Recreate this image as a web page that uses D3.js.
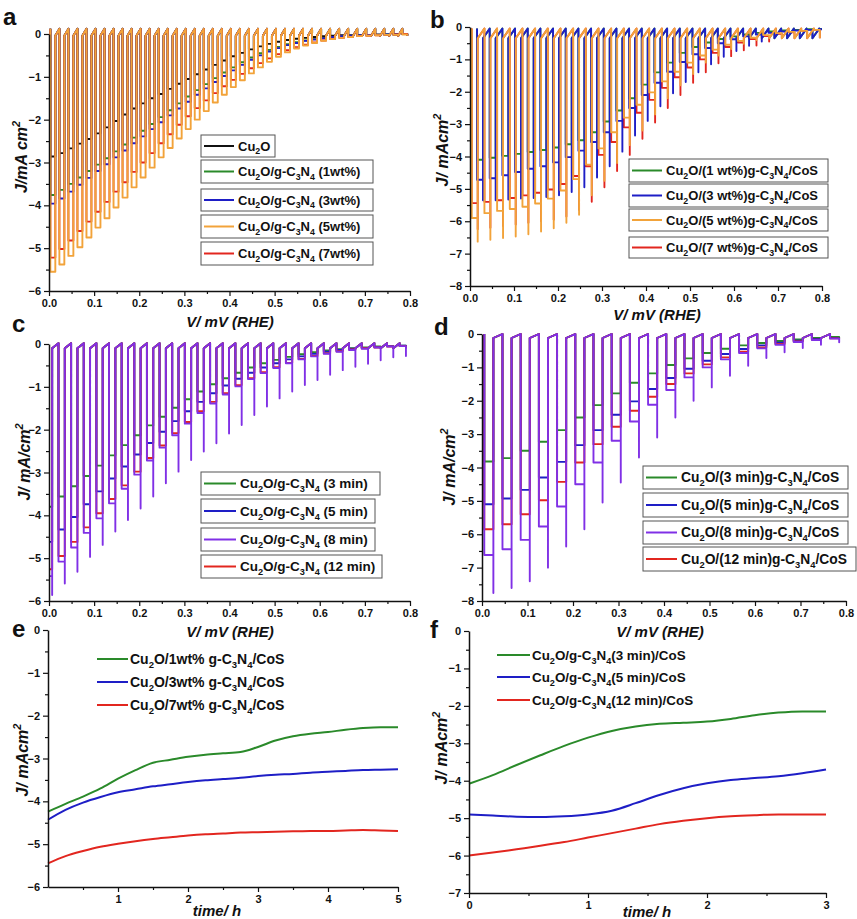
<!DOCTYPE html>
<html>
<head>
<meta charset="utf-8">
<script src="https://cdn.jsdelivr.net/npm/d3@7"></script>
<style>
  body { margin: 0; background: #fff; }
  svg { display: block; }
</style>
</head>
<body>
<svg id="fig" width="857" height="919"></svg>
<script>
// ---------- chopped-light LSV data: light-on current per chopping cycle (mA/cm2) ----------

// (a) Cu2O/g-C3N4 loadings; chop = [period, first light edge, light width] in V; dark = [after-off, before-on]
const aChop = [0.02, 0.003, 0.011];
const aDark = [-0.04, 0.12];
const aCu2O = [-2.86,-2.78,-2.67,-2.56,-2.45,-2.32,-2.18,-2.03,-1.88,-1.74,-1.62,-1.50,-1.40,-1.28,-1.16,-1.05,-0.94,-0.83,-0.72,-0.62,-0.52,-0.44,-0.36,-0.29,-0.23,-0.18,-0.14,-0.11,-0.09,-0.07,-0.05,-0.04,-0.03,-0.03,-0.02,-0.02,-0.01,-0.01,-0.01,0.00];
const a1wt = [-3.76,-3.64,-3.50,-3.35,-3.20,-3.05,-2.90,-2.74,-2.58,-2.42,-2.26,-2.10,-1.94,-1.78,-1.62,-1.46,-1.31,-1.17,-1.03,-0.90,-0.78,-0.66,-0.55,-0.45,-0.37,-0.30,-0.24,-0.19,-0.15,-0.12,-0.09,-0.07,-0.05,-0.04,-0.03,-0.02,-0.02,-0.01,-0.01,0.00];
const a3wt = [-3.96,-3.84,-3.68,-3.52,-3.36,-3.20,-3.04,-2.88,-2.72,-2.55,-2.39,-2.22,-2.06,-1.90,-1.74,-1.58,-1.42,-1.27,-1.12,-0.98,-0.85,-0.72,-0.60,-0.50,-0.41,-0.33,-0.26,-0.21,-0.16,-0.13,-0.10,-0.07,-0.05,-0.04,-0.03,-0.02,-0.02,-0.01,-0.01,0.00];
const a5wt = [-5.55,-5.38,-5.18,-4.98,-4.75,-4.52,-4.30,-4.05,-3.82,-3.58,-3.35,-3.12,-2.88,-2.66,-2.44,-2.22,-2.00,-1.80,-1.60,-1.42,-1.24,-1.08,-0.92,-0.78,-0.65,-0.53,-0.43,-0.34,-0.27,-0.21,-0.16,-0.12,-0.09,-0.07,-0.05,-0.04,-0.03,-0.02,-0.02,-0.01];
const a7wt = [-5.22,-5.02,-4.82,-4.60,-4.38,-4.15,-3.92,-3.68,-3.46,-3.22,-3.00,-2.78,-2.55,-2.34,-2.12,-1.92,-1.73,-1.55,-1.38,-1.22,-1.07,-0.93,-0.80,-0.68,-0.57,-0.47,-0.38,-0.31,-0.25,-0.20,-0.15,-0.12,-0.09,-0.07,-0.05,-0.04,-0.03,-0.02,-0.01,0.00];

// (b) Cu2O/(x wt%)g-C3N4/CoS; two shutter phases
const bChopA = [0.0288, 0.004, 0.0135];
const bChopB = [0.0288, 0.016, 0.0135];
const bDark = [-0.35, -0.05];
const b1wt = [-4.10,-4.04,-3.98,-3.92,-3.86,-3.80,-3.72,-3.62,-3.50,-3.25,-2.92,-2.58,-2.20,-1.78,-1.40,-1.10,-0.80,-0.62,-0.48,-0.37,-0.29,-0.23,-0.18,-0.14,-0.11,-0.09,-0.07,-0.06];
const b3wt = [-4.72,-4.67,-4.58,-4.48,-4.38,-4.30,-4.18,-4.02,-3.82,-3.55,-3.25,-2.90,-2.50,-2.10,-1.72,-1.38,-1.08,-0.84,-0.65,-0.50,-0.38,-0.29,-0.23,-0.18,-0.14,-0.11,-0.09,-0.07];
const b3wtSpike = [-5.35,-5.35,-5.33,-5.30,-5.28,-5.25,-5.20,-5.10,-4.95,-4.65,-4.30,-3.85,-3.35,-2.90,-2.45,-2.05,-1.70,-1.40,-1.15,-0.92,-0.74,-0.58,-0.45,-0.35,-0.27,-0.21,-0.16,-0.12];
const b5wt = [-5.90,-5.75,-5.68,-5.62,-5.55,-5.45,-5.30,-5.05,-4.70,-4.25,-3.75,-3.25,-2.80,-2.40,-2.02,-1.68,-1.38,-1.10,-0.88,-0.70,-0.55,-0.43,-0.33,-0.25,-0.19,-0.15,-0.12,-0.09];
const b5wtSpike = [-6.63,-6.57,-6.52,-6.47,-6.40,-6.32,-6.22,-6.05,-5.80,-5.20,-4.75,-4.20,-3.65,-3.20,-2.70,-2.20,-1.80,-1.45,-1.10,-0.88,-0.68,-0.52,-0.40,-0.30,-0.24,-0.18,-0.14,-0.10];
const b7wt = [-5.44,-5.40,-5.35,-5.28,-5.20,-5.12,-5.02,-4.85,-4.60,-4.30,-3.95,-3.55,-3.10,-2.65,-2.25,-1.88,-1.55,-1.25,-1.00,-0.80,-0.62,-0.48,-0.37,-0.28,-0.21,-0.16,-0.12,-0.09];
const b7wtSpike = [-6.25,-6.20,-6.15,-6.10,-6.05,-6.00,-5.95,-5.85,-5.65,-5.40,-4.95,-4.45,-3.95,-3.45,-2.95,-2.50,-2.10,-1.72,-1.40,-1.12,-0.90,-0.72,-0.57,-0.45,-0.35,-0.27,-0.21,-0.16];

// (c) Cu2O/g-C3N4 deposition time
const cChop = [0.028, -0.007, 0.014];
const cDark = [-0.10, 0.02];
const c3min = [-3.80,-3.56,-3.32,-3.08,-2.84,-2.60,-2.36,-2.13,-1.90,-1.70,-1.49,-1.29,-1.11,-0.94,-0.80,-0.67,-0.55,-0.45,-0.37,-0.30,-0.24,-0.19,-0.15,-0.12,-0.10,-0.08,-0.06,-0.05,-0.04];
const c5min = [-4.62,-4.33,-4.04,-3.74,-3.44,-3.14,-2.86,-2.58,-2.31,-2.05,-1.80,-1.57,-1.35,-1.15,-0.97,-0.81,-0.67,-0.55,-0.45,-0.36,-0.29,-0.23,-0.18,-0.14,-0.11,-0.09,-0.07,-0.05,-0.04];
const c8min = [-5.42,-5.08,-4.75,-4.41,-4.07,-3.72,-3.38,-3.05,-2.72,-2.42,-2.13,-1.86,-1.61,-1.39,-1.18,-0.99,-0.82,-0.68,-0.56,-0.45,-0.36,-0.29,-0.23,-0.18,-0.14,-0.11,-0.08,-0.06,-0.05];
const c8minSpike = [-5.86,-5.59,-5.32,-4.97,-4.69,-4.38,-4.11,-3.84,-3.56,-3.25,-2.98,-2.71,-2.51,-2.32,-2.09,-1.89,-1.66,-1.46,-1.27,-1.11,-0.96,-0.84,-0.72,-0.61,-0.53,-0.46,-0.38,-0.31,-0.28];
const c12min = [-5.26,-4.95,-4.62,-4.28,-3.95,-3.62,-3.30,-2.98,-2.66,-2.37,-2.08,-1.82,-1.57,-1.35,-1.15,-0.96,-0.80,-0.66,-0.54,-0.44,-0.35,-0.28,-0.22,-0.17,-0.13,-0.10,-0.08,-0.06,-0.05];

// (d) Cu2O/(t min)g-C3N4/CoS
const dChop = [0.04, 0.005, 0.02];
const dDark = [-0.12, 0.0];
const d3min = [-3.82,-3.72,-3.50,-3.23,-2.88,-2.50,-2.13,-1.78,-1.46,-1.18,-0.93,-0.73,-0.57,-0.44,-0.34,-0.27,-0.21,-0.16,-0.12,-0.09];
const d5min = [-5.10,-4.93,-4.67,-4.30,-3.83,-3.33,-2.88,-2.42,-2.02,-1.65,-1.32,-1.04,-0.80,-0.60,-0.45,-0.34,-0.26,-0.20,-0.15,-0.12];
const d8min = [-6.62,-6.45,-6.17,-5.77,-5.17,-4.50,-3.85,-3.20,-2.62,-2.12,-1.68,-1.30,-1.00,-0.76,-0.57,-0.43,-0.32,-0.24,-0.18,-0.14];
const d8minSpike = [-7.76,-7.61,-7.41,-7.00,-6.37,-5.85,-5.05,-4.45,-3.70,-3.10,-2.50,-2.00,-1.60,-1.25,-0.95,-0.72,-0.55,-0.42,-0.32,-0.25];
const d12min = [-5.85,-5.70,-5.40,-4.98,-4.43,-3.85,-3.30,-2.78,-2.30,-1.88,-1.50,-1.18,-0.91,-0.70,-0.53,-0.40,-0.30,-0.22,-0.17,-0.13];

// ---------- stability (chronoamperometry) data ----------
const eTime = [0,0.25,0.5,0.75,1.0,1.25,1.5,1.75,2.0,2.25,2.5,2.75,3.0,3.25,3.5,3.75,4.0,4.25,4.5,4.75,5.0];
const e1wt = [-4.24,-4.06,-3.89,-3.70,-3.47,-3.27,-3.10,-3.03,-2.96,-2.91,-2.88,-2.85,-2.73,-2.58,-2.48,-2.42,-2.38,-2.33,-2.29,-2.27,-2.27];
const e3wt = [-4.43,-4.20,-4.03,-3.90,-3.79,-3.72,-3.65,-3.60,-3.55,-3.51,-3.48,-3.45,-3.41,-3.38,-3.36,-3.33,-3.31,-3.29,-3.27,-3.26,-3.25];
const e7wt = [-5.45,-5.28,-5.16,-5.06,-4.99,-4.93,-4.88,-4.84,-4.80,-4.77,-4.75,-4.73,-4.72,-4.71,-4.70,-4.69,-4.69,-4.68,-4.67,-4.68,-4.69];

const fTime = [0,0.2,0.4,0.6,0.8,1.0,1.2,1.4,1.6,1.8,2.0,2.2,2.4,2.6,2.8,3.0];
const f3min = [-4.08,-3.85,-3.58,-3.32,-3.07,-2.85,-2.67,-2.55,-2.48,-2.45,-2.42,-2.35,-2.25,-2.18,-2.15,-2.15];
const f5min = [-4.90,-4.93,-4.96,-4.97,-4.95,-4.90,-4.80,-4.60,-4.38,-4.20,-4.07,-3.98,-3.93,-3.88,-3.80,-3.70];
const f12min = [-6.00,-5.92,-5.83,-5.74,-5.64,-5.52,-5.40,-5.28,-5.16,-5.07,-5.00,-4.95,-4.92,-4.90,-4.90,-4.90];

// ---------- ticks ----------
const vMajor = [0,0.1,0.2,0.3,0.4,0.5,0.6,0.7,0.8];
const vMinor = [0.05,0.15,0.25,0.35,0.45,0.55,0.65,0.75];
const j6Major = [-6,-5,-4,-3,-2,-1,0];
const j6Minor = [-5.5,-4.5,-3.5,-2.5,-1.5,-0.5];
const j7Major = [-7,-6,-5,-4,-3,-2,-1,0];
const j7Minor = [-6.5,-5.5,-4.5,-3.5,-2.5,-1.5,-0.5];
const j8Major = [-8,-7,-6,-5,-4,-3,-2,-1,0];
const j8Minor = [-7.5,-6.5,-5.5,-4.5,-3.5,-2.5,-1.5,-0.5];
const eMajor = [1,2,3,4,5];
const eMinor = [0.5,1.5,2.5,3.5,4.5];
const fMajor = [0,1,2,3];
const fMinor = [0.5,1.5,2.5];

// ---------- colours ----------
const BLACK = '#111111', GREEN = '#2a8a2a', BLUE = '#1e1ec6', ORANGE = '#f2a33a', RED = '#e2261f', PURPLE = '#8030e6';
const FONT = '"Liberation Sans", Arial, Helvetica, sans-serif';

const svg = d3.select('#fig');
const defs = svg.append('defs');

// text with _x subscripts and ^x superscripts
function rich(text, str, size) {
  const parts = [];
  for (let i = 0; i < str.length; i++) {
    const ch = str[i];
    if ((ch === '_' || ch === '^') && i + 1 < str.length) {
      parts.push({ t: str[i + 1], m: ch === '_' ? 1 : -1 });
      i++;
    } else if (parts.length && parts[parts.length - 1].m === 0) {
      parts[parts.length - 1].t += ch;
    } else {
      parts.push({ t: ch, m: 0 });
    }
  }
  let cur = 0;
  parts.forEach(p => {
    const off = p.m === 1 ? size * 0.28 : p.m === -1 ? -size * 0.42 : 0;
    const ts = text.append('tspan').text(p.t);
    if (off !== cur) ts.attr('dy', off - cur);
    if (p.m) ts.attr('font-size', size * 0.68);
    cur = off;
  });
  return text;
}

function axes(xs, ys, xMajor, xMinor, xFmt, yMajor, yMinor) {
  const yb = ys.range()[0];
  const xl = xs.range()[0];
  const style = g => {
    g.attr('font-family', FONT).attr('font-size', 11).attr('font-weight', 'bold');
    g.selectAll('.domain').attr('stroke', BLACK).attr('stroke-width', 1.5);
    g.selectAll('.tick line').attr('stroke', BLACK).attr('stroke-width', 1.2);
    g.selectAll('.tick text').attr('fill', BLACK);
  };
  svg.append('g').attr('transform', `translate(0,${yb})`)
    .call(d3.axisBottom(xs).tickValues(xMinor).tickFormat('').tickSizeInner(3).tickSizeOuter(0))
    .call(g => g.select('.domain').remove()).call(style);
  svg.append('g').attr('transform', `translate(${xl},0)`)
    .call(d3.axisLeft(ys).tickValues(yMinor).tickFormat('').tickSizeInner(3).tickSizeOuter(0))
    .call(g => g.select('.domain').remove()).call(style);
  svg.append('g').attr('transform', `translate(0,${yb})`)
    .call(d3.axisBottom(xs).tickValues(xMajor).tickFormat(xFmt).tickSizeInner(5).tickSizeOuter(0).tickPadding(3))
    .call(style);
  svg.append('g').attr('transform', `translate(${xl},0)`)
    .call(d3.axisLeft(ys).tickValues(yMajor).tickFormat(d3.format('d')).tickSizeInner(5).tickSizeOuter(0).tickPadding(3))
    .call(style);
}

function clip(id, xs, ys) {
  const [x0, x1] = xs.range();
  const [yb, yt] = ys.range();
  defs.append('clipPath').attr('id', id).append('rect')
    .attr('x', x0).attr('y', yt - 14).attr('width', x1 - x0).attr('height', yb - yt + 16);
}

// square-wave trace built from light-on plateaus (and optional on-spikes)
function chopped(xs, ys, clipId, chop, dark, plateau, spike, color) {
  const [period, first, width] = chop;
  const pts = [];
  plateau.forEach((p, k) => {
    const xl = first + k * period, xr = xl + width;
    const s = spike ? spike[k] : p;
    pts.push([xl, dark[1]], [xl, p], [xr, p], [xr, s], [xr, dark[0]]);
  });
  svg.append('path')
    .attr('clip-path', `url(#${clipId})`)
    .attr('d', d3.line().x(d => xs(d[0])).y(d => ys(d[1]))(pts))
    .attr('fill', 'none').attr('stroke', color).attr('stroke-width', 1.9)
    .attr('stroke-linejoin', 'round');
}

function smooth(xs, ys, t, v, color) {
  svg.append('path')
    .attr('d', d3.line().curve(d3.curveMonotoneX).x((d, i) => xs(t[i])).y(d => ys(d))(v))
    .attr('fill', 'none').attr('stroke', color).attr('stroke-width', 2);
}

function boxedLegend(items) {
  items.forEach(it => {
    const [x0, y0, x1, y1] = it.box;
    const cy = (y0 + y1) / 2;
    svg.append('rect').attr('x', x0).attr('y', y0).attr('width', x1 - x0).attr('height', y1 - y0)
      .attr('fill', '#fff').attr('stroke', '#555').attr('stroke-width', 1);
    svg.append('line').attr('x1', x0 + 3).attr('x2', x0 + it.line).attr('y1', cy).attr('y2', cy)
      .attr('stroke', it.color).attr('stroke-width', 2);
    rich(svg.append('text').attr('x', x0 + it.line + 4).attr('y', cy + 4.8)
      .attr('font-family', FONT).attr('font-size', it.size).attr('font-weight', 'bold').attr('fill', BLACK),
      it.label, it.size);
  });
}

function plainLegend(items, lx0, lx1, size) {
  items.forEach(it => {
    svg.append('line').attr('x1', lx0).attr('x2', lx1).attr('y1', it.y).attr('y2', it.y)
      .attr('stroke', it.color).attr('stroke-width', 2);
    rich(svg.append('text').attr('x', lx1 + 2).attr('y', it.y + 4.8)
      .attr('font-family', FONT).attr('font-size', size).attr('font-weight', 'bold').attr('fill', BLACK),
      it.label, size);
  });
}

function yTitle(x, y, str) {
  rich(svg.append('text').attr('transform', `translate(${x},${y}) rotate(-90)`)
    .attr('text-anchor', 'middle').attr('font-family', FONT).attr('font-size', 16)
    .attr('font-weight', 'bold').attr('font-style', 'italic').attr('fill', BLACK), str, 16);
}
function xTitle(x, y, str) {
  svg.append('text').attr('x', x).attr('y', y).attr('text-anchor', 'middle')
    .attr('font-family', FONT).attr('font-size', 15).attr('font-weight', 'bold')
    .attr('font-style', 'italic').attr('fill', BLACK).text(str);
}
function letter(x, y, s) {
  svg.append('text').attr('x', x).attr('y', y).attr('font-family', FONT).attr('font-size', 24)
    .attr('font-weight', 'bold').attr('fill', BLACK).text(s);
}

const f1 = d3.format('.1f');

// ---------- (a) ----------
{
  const xs = d3.scaleLinear().domain([0, 0.8]).range([49, 410]);
  const ys = d3.scaleLinear().domain([-6, 0]).range([291, 34]);
  clip('clipA', xs, ys);
  chopped(xs, ys, 'clipA', aChop, aDark, aCu2O, null, BLACK);
  chopped(xs, ys, 'clipA', aChop, aDark, a1wt, null, GREEN);
  chopped(xs, ys, 'clipA', aChop, aDark, a3wt, null, BLUE);
  chopped(xs, ys, 'clipA', aChop, aDark, a7wt, null, RED);
  chopped(xs, ys, 'clipA', aChop, aDark, a5wt, null, ORANGE);
  axes(xs, ys, vMajor, vMinor, f1, j6Major, j6Minor);
  boxedLegend([
    { box: [201, 135, 275, 157], line: 33, color: BLACK, label: 'Cu_2O', size: 13 },
    { box: [201, 160, 373, 183], line: 33, color: GREEN, label: 'Cu_2O/g-C_3N_4 (1wt%)', size: 13 },
    { box: [201, 189, 373, 211], line: 33, color: BLUE, label: 'Cu_2O/g-C_3N_4 (3wt%)', size: 13 },
    { box: [201, 215, 373, 238], line: 33, color: ORANGE, label: 'Cu_2O/g-C_3N_4 (5wt%)', size: 13 },
    { box: [201, 242, 373, 265], line: 33, color: RED, label: 'Cu_2O/g-C_3N_4 (7wt%)', size: 13 }
  ]);
  yTitle(27, 157, 'J/mA cm^2');
  xTitle(230, 327, 'V/ mV (RHE)');
  letter(3, 25, 'a');
}

// ---------- (b) ----------
{
  const xs = d3.scaleLinear().domain([0, 0.8]).range([470, 822]);
  const ys = d3.scaleLinear().domain([-8, 0]).range([286, 27]);
  clip('clipB', xs, ys);
  chopped(xs, ys, 'clipB', bChopB, bDark, b1wt, null, GREEN);
  chopped(xs, ys, 'clipB', bChopA, bDark, b7wt, b7wtSpike, RED);
  chopped(xs, ys, 'clipB', bChopB, bDark, b3wt, b3wtSpike, BLUE);
  chopped(xs, ys, 'clipB', bChopA, bDark, b5wt, b5wtSpike, ORANGE);
  axes(xs, ys, vMajor, vMinor, f1, j8Major, j8Minor);
  boxedLegend([
    { box: [629, 159, 828, 182], line: 33, color: GREEN, label: 'Cu_2O/(1 wt%)g-C_3N_4/CoS', size: 13 },
    { box: [629, 184, 828, 207], line: 33, color: BLUE, label: 'Cu_2O/(3 wt%)g-C_3N_4/CoS', size: 13 },
    { box: [629, 209, 828, 231], line: 33, color: ORANGE, label: 'Cu_2O/(5 wt%)g-C_3N_4/CoS', size: 13 },
    { box: [629, 237, 828, 258], line: 33, color: RED, label: 'Cu_2O/(7 wt%)g-C_3N_4/CoS', size: 13 }
  ]);
  yTitle(448, 150, 'J/ mAcm^2');
  xTitle(657, 320, 'V/ mV (RHE)');
  letter(430, 28, 'b');
}

// ---------- (c) ----------
{
  const xs = d3.scaleLinear().domain([0, 0.8]).range([49, 410]);
  const ys = d3.scaleLinear().domain([-6, 0]).range([601, 344]);
  clip('clipC', xs, ys);
  chopped(xs, ys, 'clipC', cChop, cDark, c3min, null, GREEN);
  chopped(xs, ys, 'clipC', cChop, cDark, c5min, null, BLUE);
  chopped(xs, ys, 'clipC', cChop, cDark, c12min, null, RED);
  chopped(xs, ys, 'clipC', cChop, cDark, c8min, c8minSpike, PURPLE);
  axes(xs, ys, vMajor, vMinor, f1, j6Major, j6Minor);
  boxedLegend([
    { box: [201, 472, 380, 495], line: 35, color: GREEN, label: 'Cu_2O/g-C_3N_4 (3 min)', size: 13.5 },
    { box: [201, 499, 375, 523], line: 35, color: BLUE, label: 'Cu_2O/g-C_3N_4 (5 min)', size: 13.5 },
    { box: [201, 528, 375, 551], line: 35, color: PURPLE, label: 'Cu_2O/g-C_3N_4 (8 min)', size: 13.5 },
    { box: [201, 555, 382, 578], line: 35, color: RED, label: 'Cu_2O/g-C_3N_4 (12 min)', size: 13.5 }
  ]);
  yTitle(30, 462, 'J/ mA/cm^2');
  xTitle(230, 637, 'V/ mV (RHE)');
  letter(12, 332, 'c');
}

// ---------- (d) ----------
{
  const xs = d3.scaleLinear().domain([0, 0.8]).range([482, 846]);
  const ys = d3.scaleLinear().domain([-8, 0]).range([601, 334]);
  clip('clipD', xs, ys);
  chopped(xs, ys, 'clipD', dChop, dDark, d3min, null, GREEN);
  chopped(xs, ys, 'clipD', dChop, dDark, d5min, null, BLUE);
  chopped(xs, ys, 'clipD', dChop, dDark, d12min, null, RED);
  chopped(xs, ys, 'clipD', dChop, dDark, d8min, d8minSpike, PURPLE);
  axes(xs, ys, vMajor, vMinor, f1, j8Major, j8Minor);
  boxedLegend([
    { box: [643, 466, 848, 489], line: 34, color: GREEN, label: 'Cu_2O/(3 min)g-C_3N_4/CoS', size: 13.8 },
    { box: [643, 493, 848, 517], line: 34, color: BLUE, label: 'Cu_2O/(5 min)g-C_3N_4/CoS', size: 13.8 },
    { box: [643, 521, 848, 544], line: 34, color: PURPLE, label: 'Cu_2O/(8 min)g-C_3N_4/CoS', size: 13.8 },
    { box: [643, 547, 856, 571], line: 34, color: RED, label: 'Cu_2O/(12 min)g-C_3N_4/CoS', size: 13.8 }
  ]);
  yTitle(455, 467, 'J/ mA/cm^2');
  xTitle(660, 637, 'V/ mV (RHE)');
  letter(434, 335, 'd');
}

// ---------- (e) ----------
{
  const xs = d3.scaleLinear().domain([0, 5]).range([48, 398]);
  const ys = d3.scaleLinear().domain([-6, 0]).range([887, 630]);
  smooth(xs, ys, eTime, e1wt, GREEN);
  smooth(xs, ys, eTime, e3wt, BLUE);
  smooth(xs, ys, eTime, e7wt, RED);
  axes(xs, ys, eMajor, eMinor, d3.format('d'), j6Major, j6Minor);
  plainLegend([
    { y: 659, color: GREEN, label: 'Cu_2O/1wt% g-C_3N_4/CoS' },
    { y: 682, color: BLUE, label: 'Cu_2O/3wt% g-C_3N_4/CoS' },
    { y: 705, color: RED, label: 'Cu_2O/7wt% g-C_3N_4/CoS' }
  ], 97, 128, 14);
  yTitle(28, 760, 'J/ mAcm^2');
  xTitle(217, 916, 'time/ h');
  letter(12, 637, 'e');
}

// ---------- (f) ----------
{
  const xs = d3.scaleLinear().domain([0, 3]).range([469, 826]);
  const ys = d3.scaleLinear().domain([-7, 0]).range([893, 631]);
  smooth(xs, ys, fTime, f3min, GREEN);
  smooth(xs, ys, fTime, f5min, BLUE);
  smooth(xs, ys, fTime, f12min, RED);
  axes(xs, ys, fMajor, fMinor, d3.format('d'), j7Major, j7Minor);
  plainLegend([
    { y: 655, color: GREEN, label: 'Cu_2O/g-C_3N_4(3 min)/CoS' },
    { y: 677, color: BLUE, label: 'Cu_2O/g-C_3N_4(5 min)/CoS' },
    { y: 700, color: RED, label: 'Cu_2O/g-C_3N_4(12 min)/CoS' }
  ], 497, 530, 13.4);
  yTitle(447, 748, 'J/ mAcm^2');
  xTitle(647, 917, 'time/ h');
  letter(430, 638, 'f');
}
</script>
</body>
</html>
